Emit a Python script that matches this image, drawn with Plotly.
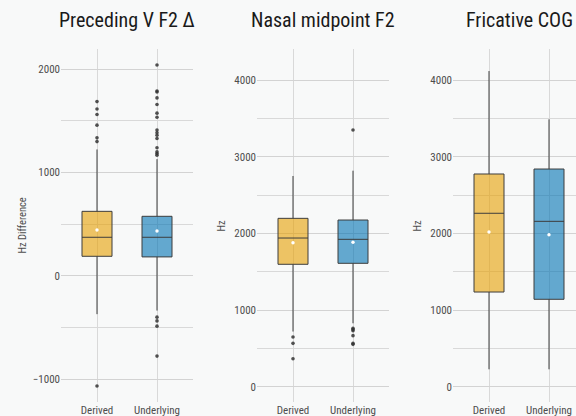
import plotly.graph_objects as go

# ---------------- data ----------------
categories = ["Derived", "Underlying"]
panel_titles = ["Preceding V F2 Δ", "Nasal midpoint F2", "Fricative COG"]
y_titles = ["Hz Difference", "Hz", "Hz"]

# Preceding V F2 Δ
pv_q1 = [190, 184]
pv_median = [374, 374]
pv_q3 = [625, 577]
pv_lower = [-370, -335]
pv_upper = [1224, 1130]
pv_mean = [444, 435]
pv_out_derived = [1687, 1616, 1562, 1459, 1336, 1300, -1065]
pv_out_underlying = [2041, 1790, 1780, 1723, 1659, 1575, 1536, 1411, 1385, 1362,
                     1330, 1240, 1201, 1185, 1169, -399, -435, -486, -776]

# Nasal midpoint F2
nm_q1 = [1598, 1611]
nm_median = [1941, 1924]
nm_q3 = [2198, 2176]
nm_lower = [720, 828]
nm_upper = [2751, 2820]
nm_mean = [1880, 1885]
nm_out_derived = [649, 566, 365]
nm_out_underlying = [3351, 762, 745, 731, 666, 566, 553]

# Fricative COG
fc_q1 = [1236, 1141]
fc_median = [2264, 2159]
fc_q3 = [2777, 2842]
fc_lower = [227, 227]
fc_upper = [4121, 3491]
fc_mean = [2020, 1984]
fc_out_derived = []
fc_out_underlying = []

fill_colors = ["rgba(230,159,0,0.6)", "rgba(0,114,178,0.6)"]

panels = [
    dict(q1=pv_q1, med=pv_median, q3=pv_q3, lo=pv_lower, hi=pv_upper, mean=pv_mean,
         outs=[pv_out_derived, pv_out_underlying]),
    dict(q1=nm_q1, med=nm_median, q3=nm_q3, lo=nm_lower, hi=nm_upper, mean=nm_mean,
         outs=[nm_out_derived, nm_out_underlying]),
    dict(q1=fc_q1, med=fc_median, q3=fc_q3, lo=fc_lower, hi=fc_upper, mean=fc_mean,
         outs=[fc_out_derived, fc_out_underlying]),
]

# ---------------- layout geometry ----------------
W, H = 576, 416
FONT = "Roboto Condensed, Liberation Sans Narrow, Roboto, sans-serif"
x_px = [(61, 193), (257, 389), (453, 576)]
x_ranges = [[-0.6, 1.6], [-0.6, 1.6], [-0.6, -0.6 + 123 / 60]]
y_ranges = [[-1220, 2196], [-200, 4409], [-200, 4409]]
y_dom = [14 / H, 367 / H]
title_cx = [127, 323, 519]
ytitle_cx = [22, 221, 417]

fig = go.Figure()

for i, p in enumerate(panels):
    xa = "x" if i == 0 else f"x{i+1}"
    ya = "y" if i == 0 else f"y{i+1}"
    for j in range(2):
        fig.add_trace(go.Box(
            x=[j], q1=[p["q1"][j]], median=[p["med"][j]], q3=[p["q3"][j]],
            lowerfence=[p["lo"][j]], upperfence=[p["hi"][j]],
            width=0.5, whiskerwidth=0, boxpoints=False,
            fillcolor=fill_colors[j], line=dict(color="#3d3d3d", width=1),
            xaxis=xa, yaxis=ya, showlegend=False, hoverinfo="skip"))
        if p["outs"][j]:
            fig.add_trace(go.Scatter(
                x=[j] * len(p["outs"][j]), y=p["outs"][j], mode="markers",
                marker=dict(color="rgba(50,50,50,0.85)", size=3.6),
                xaxis=xa, yaxis=ya, showlegend=False, hoverinfo="skip"))
        fig.add_trace(go.Scatter(
            x=[j], y=[p["mean"][j]], mode="markers",
            marker=dict(color="white", size=3.4),
            xaxis=xa, yaxis=ya, showlegend=False, hoverinfo="skip"))

layout = dict(
    width=W, height=H,
    margin=dict(l=0, r=0, t=0, b=0),
    paper_bgcolor="#F8F9F9", plot_bgcolor="#F8F9F9",
    font=dict(family=FONT, color="#4d4d4d"),
    showlegend=False,
)
annotations = []
for i in range(3):
    sfx = "" if i == 0 else str(i + 1)
    layout["xaxis" + sfx] = dict(
        domain=[x_px[i][0] / W, x_px[i][1] / W], range=x_ranges[i],
        anchor="y" + sfx, tickvals=[0, 1], ticktext=categories,
        showgrid=True, gridcolor="#d9d9d9", gridwidth=1, zeroline=False,
        showline=False, ticks="", tickfont=dict(size=11, color="#4d4d4d"),
        fixedrange=True)
    layout["yaxis" + sfx] = dict(
        domain=y_dom, range=y_ranges[i], anchor="x" + sfx,
        tick0=0, dtick=1000, showgrid=True, gridcolor="#d3d3d3", gridwidth=1,
        zeroline=False, showline=False, ticks="",
        tickfont=dict(size=11, color="#4d4d4d"),
        minor=dict(tick0=0, dtick=500, showgrid=True, gridcolor="#d9d9d9", gridwidth=1),
        fixedrange=True)
    annotations.append(dict(
        text=panel_titles[i], xref="paper", yref="paper",
        x=title_cx[i] / W, y=1 - 20 / H, xanchor="center", yanchor="middle",
        showarrow=False, font=dict(family=FONT, size=20, color="#1a1a1a")))
    annotations.append(dict(
        text=y_titles[i], xref="paper", yref="paper",
        x=ytitle_cx[i] / W, y=(y_dom[0] + y_dom[1]) / 2, textangle=-90,
        xanchor="center", yanchor="middle",
        showarrow=False, font=dict(family=FONT, size=10.5, color="#4d4d4d")))
layout["annotations"] = annotations
fig.update_layout(**layout)

fig.write_html(
    "out.html",
    config={"displayModeBar": False, "staticPlot": True},
    post_script="document.body.style.margin='0';document.body.style.overflow='hidden';",
)
